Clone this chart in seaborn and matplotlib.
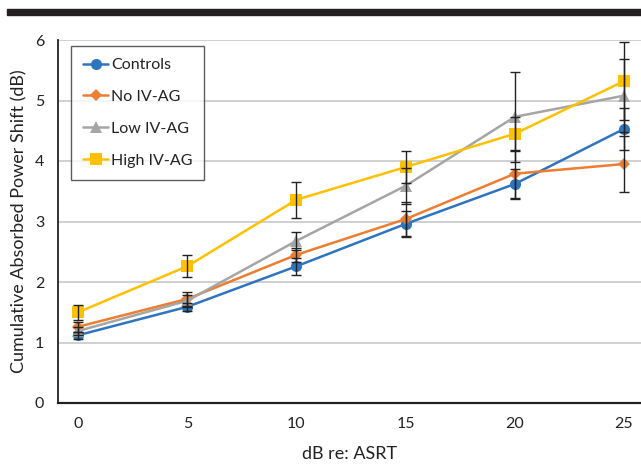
import matplotlib
matplotlib.use("Agg")
import matplotlib.pyplot as plt
import seaborn as sns
import pandas as pd
import numpy as np
from matplotlib.patches import Rectangle

# ---- data ----
x_levels = [0, 5, 10, 15, 20, 25]
groups = ["Controls", "No IV-AG", "Low IV-AG", "High IV-AG"]
controls = [1.12, 1.59, 2.26, 2.96, 3.62, 4.53]
no_ivag = [1.26, 1.72, 2.45, 3.04, 3.79, 3.95]
low_ivag = [1.19, 1.69, 2.68, 3.59, 4.73, 5.08]
high_ivag = [1.50, 2.26, 3.36, 3.90, 4.45, 5.32]
controls_err = [0.06, 0.07, 0.14, 0.22, 0.24, 0.35]
no_ivag_err = [0.08, 0.12, 0.12, 0.28, 0.40, 0.46]
low_ivag_err = [0.07, 0.10, 0.15, 0.30, 0.74, 0.60]
high_ivag_err = [0.12, 0.18, 0.30, 0.26, 0.28, 0.65]
y_ticks = [0, 1, 2, 3, 4, 5, 6]

values = [controls, no_ivag, low_ivag, high_ivag]
errors = [controls_err, no_ivag_err, low_ivag_err, high_ivag_err]
colors = ["#2E74BF", "#ED7D31", "#A5A5A5", "#FFC000"]
markers = ["o", "D", "^", "s"]
msizes = [8, 6, 8, 8]

df = pd.DataFrame({
    "x": np.tile(x_levels, len(groups)),
    "y": np.concatenate(values),
    "group": np.repeat(groups, len(x_levels)),
})

sns.set_style("white")
plt.rcParams["font.family"] = ["Lato", "DejaVu Sans"]

fig = plt.figure(figsize=(6.41, 4.70), dpi=100)
W, H = 641, 470
ax = fig.add_axes([58 / W, (470 - 403) / H, (641 - 58) / W, (403 - 40) / H])

# top black bar
fig.patches.append(Rectangle((7 / W, (470 - 15) / H), 1 - 7 / W, 6 / H,
                             transform=fig.transFigure, color="#231F20", zorder=0))

sns.lineplot(data=df, x="x", y="y", hue="group", style="group",
             hue_order=groups, style_order=groups,
             palette=dict(zip(groups, colors)),
             markers=dict(zip(groups, markers)), dashes=False,
             linewidth=1.8, markeredgewidth=0, ax=ax, zorder=3)
for line, ms in zip(ax.get_lines()[:len(groups)], msizes):
    line.set_markersize(ms)

for v, e in zip(values, errors):
    ax.errorbar(x_levels, v, yerr=e, fmt="none", ecolor="#222222",
                elinewidth=1.0, capsize=3.5, capthick=1.0, zorder=4)

ax.set_xlim(-0.92, 25.78)
ax.set_ylim(0, 6)
ax.set_yticks(y_ticks)
ax.set_xticks(x_levels)
ax.yaxis.grid(True, color="#C8C8C8", linewidth=1.2)
ax.xaxis.grid(False)
for s in ["top", "right"]:
    ax.spines[s].set_visible(False)
ax.spines["left"].set_color("#222222")
ax.spines["bottom"].set_color("#222222")
ax.spines["left"].set_linewidth(1.3)
ax.spines["bottom"].set_linewidth(1.6)
ax.tick_params(axis="x", length=3, direction="in", color="#444444", labelsize=11.5,
               pad=10, labelcolor="#222222")
ax.tick_params(axis="y", length=0, labelsize=11.5, pad=10, labelcolor="#222222")
ax.set_xlabel("dB re: ASRT", fontsize=13, color="#222222", labelpad=11)
ax.set_ylabel("Cumulative Absorbed Power Shift (dB)", fontsize=13, color="#222222", labelpad=5)

handles, labels = ax.get_legend_handles_labels()
for h, ms in zip(handles, msizes):
    h.set_markersize(ms)
leg = ax.legend(handles, labels, loc="upper left", bbox_to_anchor=(0.022, 0.983),
                borderaxespad=0, frameon=True, fancybox=False, fontsize=11.5,
                handlelength=1.6, handletextpad=0.15, labelspacing=1.1,
                borderpad=0.75)
leg.get_frame().set_edgecolor("#333333")
leg.get_frame().set_linewidth(1.0)
for t in leg.get_texts():
    t.set_color("#222222")

fig.savefig("out.png", dpi=100)
